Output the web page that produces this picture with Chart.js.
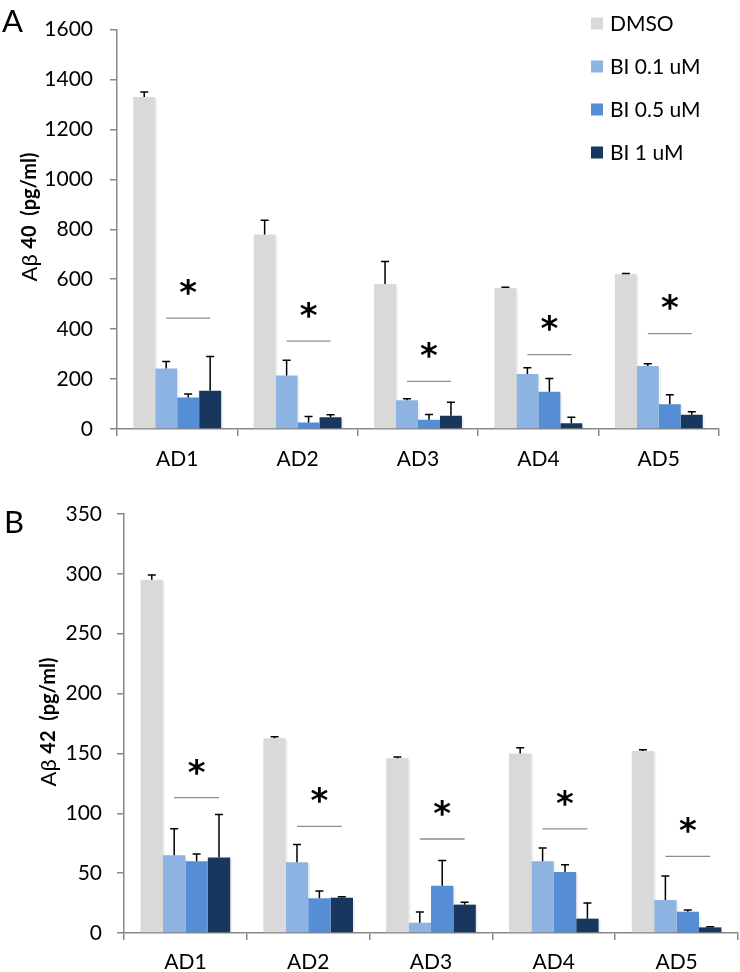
<!DOCTYPE html>
<html>
<head>
<meta charset="utf-8">
<script src="https://cdn.jsdelivr.net/npm/chart.js@4.4.1/dist/chart.umd.min.js"></script>
<style>
  html, body { margin: 0; padding: 0; background: #fff; }
  #wrap { position: relative; width: 740px; height: 972px; }
  .panel { position: absolute; left: 0; width: 740px; }
  #panelA { top: 0; height: 485px; }
  #panelB { top: 485px; height: 487px; }
</style>
</head>
<body>
<div id="wrap">
  <div class="panel" id="panelA"><canvas id="chartA"></canvas></div>
  <div class="panel" id="panelB"><canvas id="chartB"></canvas></div>
</div>
<script>
// categories and series
const categories = ['AD1', 'AD2', 'AD3', 'AD4', 'AD5'];
const seriesLabels = ['DMSO', 'BI 0.1 uM', 'BI 0.5 uM', 'BI 1 uM'];
const seriesColors = ['#d9d9d9', '#8db3e2', '#558ed5', '#17375e'];

// panel A: Abeta 40 (pg/ml), mean and upper error
const a40Dmso = [1330, 779, 581, 565, 620];
const a40Bi01 = [242, 214, 115, 220, 252];
const a40Bi05 = [126, 26, 37, 149, 99];
const a40Bi1 = [153, 47, 53, 23, 57];
const a40DmsoErr = [20, 57, 90, 3, 3];
const a40Bi01Err = [28, 61, 6, 25, 9];
const a40Bi05Err = [14, 24, 21, 53, 38];
const a40Bi1Err = [137, 10, 54, 24, 12];
const a40Sig = [444, 352, 191, 298, 382];   // height of the "*" bar
const a40Max = 1600;
const a40Step = 200;

// panel B: Abeta 42 (pg/ml)
const a42Dmso = [295, 162.6, 146, 150, 152];
const a42Bi01 = [65, 59, 8.6, 60, 27.6];
const a42Bi05 = [60, 29, 39.5, 51, 17.8];
const a42Bi1 = [63, 29.5, 23.7, 12, 4.7];
const a42DmsoErr = [4, 1.4, 1, 4.8, 1];
const a42Bi01Err = [22, 15, 9, 11, 20];
const a42Bi05Err = [6, 6, 21, 6, 1.4];
const a42Bi1Err = [36, 0.7, 2, 13, 0.5];
const a42Sig = [113, 89, 78.5, 87, 64];
const a42Max = 350;
const a42Step = 50;

const FONT = 'Lato, "Open Sans", sans-serif';
const AXIS_GREY = '#878787';

// error bars (upper only, T shape)
const errorBars = {
  id: 'errorBars',
  afterDatasetsDraw(chart) {
    const ctx = chart.ctx;
    const y = chart.scales.y;
    ctx.save();
    ctx.strokeStyle = '#000';
    ctx.lineWidth = 1.5;
    chart.data.datasets.forEach((ds, di) => {
      const meta = chart.getDatasetMeta(di);
      meta.data.forEach((bar, i) => {
        const top = y.getPixelForValue(ds.data[i] + ds.errors[i]);
        ctx.beginPath();
        ctx.moveTo(bar.x, bar.y);
        ctx.lineTo(bar.x, top);
        ctx.moveTo(bar.x - 4, top);
        ctx.lineTo(bar.x + 4, top);
        ctx.stroke();
      });
    });
    ctx.restore();
  }
};

// faint shadow to the right of each bar, like the original
const barShadow = {
  id: 'barShadow',
  beforeDatasetsDraw(chart) {
    const ctx = chart.ctx;
    ctx.save();
    ctx.fillStyle = 'rgba(0,0,0,0.06)';
    chart.data.datasets.forEach((ds, di) => {
      chart.getDatasetMeta(di).data.forEach(bar => {
        const w = bar.width;
        ctx.fillRect(bar.x - w / 2 + 2, bar.y + 2, w, bar.base - bar.y - 2);
      });
    });
    ctx.restore();
  }
};

// significance line + star, plus panel letter, y title and legend
const decorations = {
  id: 'decorations',
  afterDraw(chart, args, opts) {
    const ctx = chart.ctx;
    const y = chart.scales.y;
    const m1 = chart.getDatasetMeta(1);
    const m2 = chart.getDatasetMeta(2);
    const m3 = chart.getDatasetMeta(3);
    ctx.save();
    opts.sig.forEach((v, i) => {
      const py = y.getPixelForValue(v);
      ctx.strokeStyle = '#8c8c8c';
      ctx.lineWidth = 1.3;
      ctx.beginPath();
      ctx.moveTo(m1.data[i].x, py);
      ctx.lineTo(m3.data[i].x, py);
      ctx.stroke();
      ctx.fillStyle = '#000';
      ctx.font = 'bold 34px "DejaVu Sans"';
      ctx.textAlign = 'center';
      ctx.textBaseline = 'middle';
      ctx.fillText('*', m2.data[i].x, py - 23);
    });

    // panel letter
    ctx.fillStyle = '#000';
    ctx.font = '31px ' + FONT;
    ctx.textAlign = 'left';
    ctx.textBaseline = 'alphabetic';
    ctx.fillText(opts.letter, opts.letterX, opts.letterY);

    // rotated y title: "Aβ" regular, rest bold
    const regFont = '22px ' + FONT;
    const boldFont = 'bold 20px ' + FONT;
    ctx.font = regFont;
    const w1 = ctx.measureText(opts.titleA).width;
    ctx.font = boldFont;
    const w2 = ctx.measureText(opts.titleB).width;
    ctx.translate(opts.titleX, opts.titleY);
    ctx.rotate(-Math.PI / 2);
    ctx.textBaseline = 'middle';
    let start = -(w1 + w2) / 2;
    ctx.font = regFont;
    ctx.fillText(opts.titleA, start, 0);
    ctx.font = boldFont;
    ctx.fillText(opts.titleB, start + w1, 0);
    ctx.setTransform(1, 0, 0, 1, 0, 0);

    // legend
    if (opts.legend) {
      ctx.font = '21px ' + FONT;
      ctx.textBaseline = 'middle';
      chart.data.datasets.forEach((ds, di) => {
        const cy = 23.5 + di * 43;
        ctx.fillStyle = ds.backgroundColor;
        ctx.fillRect(591, cy - 6, 12, 12);
        ctx.fillStyle = '#000';
        ctx.fillText(ds.label, 610, cy + 1);
      });
    }
    ctx.restore();
  }
};

function makeChart(canvasId, values, errors, cfg) {
  const datasets = values.map((vals, k) => ({
    label: seriesLabels[k],
    data: vals,
    errors: errors[k],
    backgroundColor: seriesColors[k],
    borderWidth: 0,
    categoryPercentage: 0.73,
    barPercentage: 1.0
  }));
  return new Chart(document.getElementById(canvasId), {
    type: 'bar',
    data: { labels: categories, datasets: datasets },
    options: {
      responsive: true,
      maintainAspectRatio: false,
      animation: false,
      layout: { padding: cfg.padding },
      plugins: {
        legend: { display: false },
        tooltip: { enabled: false },
        decorations: cfg.deco
      },
      scales: {
        x: {
          grid: { display: true, drawOnChartArea: false, drawTicks: true, tickLength: 7, color: AXIS_GREY, lineWidth: 1.5, offset: true },
          border: { display: true, color: AXIS_GREY, width: 1.5 },
          ticks: { color: '#000', font: { family: FONT, size: 21 }, padding: cfg.xPad },
          afterFit(scale) { scale.height = cfg.xHeight; }
        },
        y: {
          min: 0,
          max: cfg.max,
          grid: { display: true, drawOnChartArea: false, drawTicks: true, tickLength: 7, color: AXIS_GREY, lineWidth: 1.5 },
          border: { display: true, color: AXIS_GREY, width: 1.5 },
          ticks: {
            stepSize: cfg.step, color: '#000', font: { family: FONT, size: 21 }, padding: cfg.yPad,
            callback: v => String(v)
          },
          afterFit(scale) { scale.width = cfg.yWidth; }
        }
      }
    },
    plugins: [barShadow, errorBars, decorations]
  });
}

makeChart('chartA',
  [a40Dmso, a40Bi01, a40Bi05, a40Bi1],
  [a40DmsoErr, a40Bi01Err, a40Bi05Err, a40Bi1Err],
  {
    padding: { left: 0, top: 10, right: 21, bottom: 0 },
    xHeight: 56, yWidth: 117, xPad: 11, yPad: 17,
    max: a40Max, step: a40Step,
    deco: { sig: a40Sig, letter: 'A', letterX: 2, letterY: 32, titleA: 'A\u03B2 ', titleB: '40  (pg/ml)', titleX: 30, titleY: 217, legend: true }
  });

makeChart('chartB',
  [a42Dmso, a42Bi01, a42Bi05, a42Bi1],
  [a42DmsoErr, a42Bi01Err, a42Bi05Err, a42Bi1Err],
  {
    padding: { left: 0, top: 29, right: 2, bottom: 0 },
    xHeight: 39, yWidth: 124, xPad: 10, yPad: 15,
    max: a42Max, step: a42Step,
    deco: { sig: a42Sig, letter: 'B', letterX: 4, letterY: 48, titleA: 'A\u03B2 ', titleB: '42  (pg/ml)', titleX: 49, titleY: 237, legend: false }
  });
</script>
</body>
</html>
